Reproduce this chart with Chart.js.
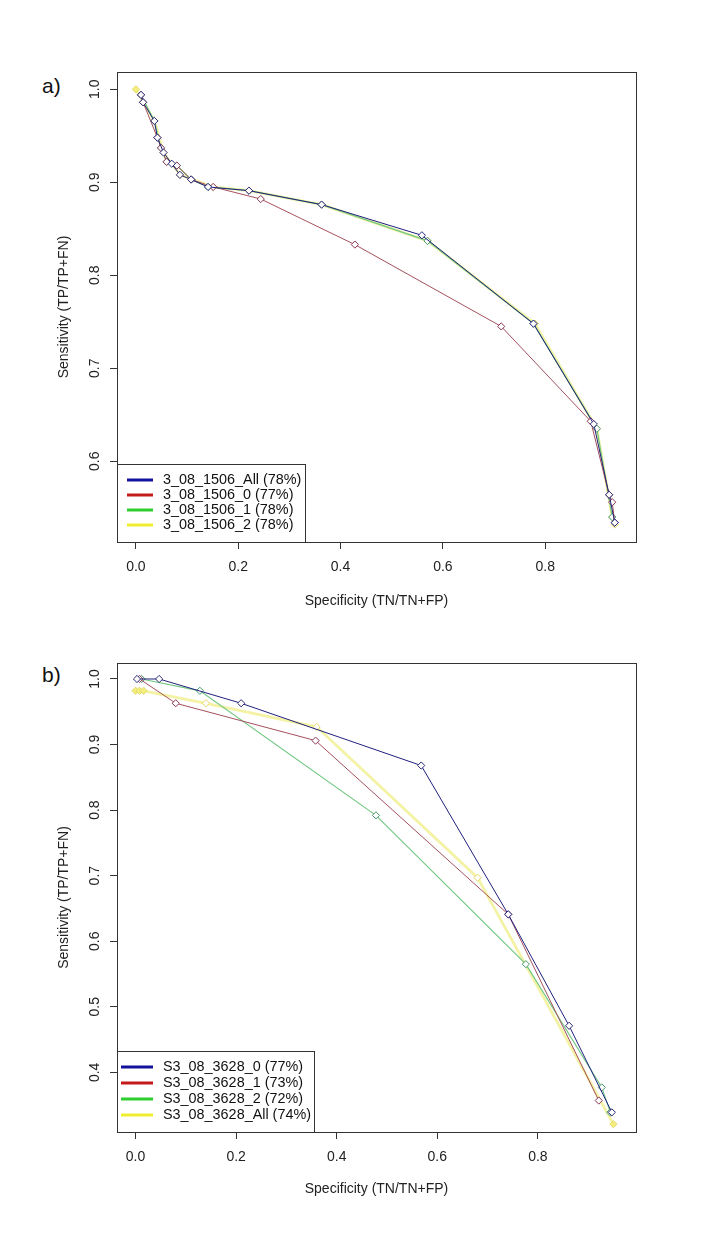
<!DOCTYPE html>
<html>
<head>
<meta charset="utf-8">
<script src="https://cdn.jsdelivr.net/npm/chart.js@4.4.1/dist/chart.umd.min.js"></script>
<style>
  html, body { margin: 0; padding: 0; background: #ffffff; }
  body { width: 720px; height: 1247px; position: relative; overflow: hidden;
         font-family: "Liberation Sans", Arial, sans-serif; }
  .panel { position: absolute; left: 0; width: 720px; }
  .lab { position: absolute; left: 42px; font-size: 21px; line-height: 21px; color: #111; }
</style>
</head>
<body>
<div class="lab" style="top:75px">a)</div>
<div class="lab" style="top:664px">b)</div>
<div class="panel" style="top:0px;height:620px"><canvas id="ca" width="720" height="620"></canvas></div>
<div class="panel" style="top:620px;height:627px"><canvas id="cb" width="720" height="627"></canvas></div>
<script>
// ---------------- DATA: panel a ----------------
const aLabels = ['3_08_1506_All (78%)', '3_08_1506_0 (77%)', '3_08_1506_1 (78%)', '3_08_1506_2 (78%)'];
const aAllX = [0.010, 0.014, 0.036, 0.042, 0.054, 0.070, 0.086, 0.108, 0.141, 0.221, 0.363, 0.559, 0.777, 0.895, 0.925, 0.936];
const aAllY = [0.994, 0.986, 0.966, 0.948, 0.932, 0.920, 0.908, 0.903, 0.895, 0.891, 0.876, 0.843, 0.748, 0.640, 0.564, 0.534];
const a0X = [0.010, 0.014, 0.042, 0.049, 0.060, 0.080, 0.108, 0.151, 0.244, 0.428, 0.714, 0.889, 0.925, 0.931, 0.936];
const a0Y = [0.994, 0.986, 0.948, 0.937, 0.922, 0.918, 0.903, 0.895, 0.882, 0.833, 0.745, 0.643, 0.564, 0.556, 0.534];
const a1X = [0.010, 0.036, 0.049, 0.060, 0.080, 0.108, 0.141, 0.221, 0.363, 0.570, 0.777, 0.901, 0.931, 0.936];
const a1Y = [0.994, 0.966, 0.937, 0.922, 0.918, 0.903, 0.895, 0.891, 0.876, 0.837, 0.748, 0.635, 0.540, 0.534];
const a2X = [0.000, 0.036, 0.054, 0.086, 0.151, 0.221, 0.363, 0.570, 0.780, 0.901, 0.931, 0.936];
const a2Y = [1.000, 0.966, 0.932, 0.908, 0.895, 0.891, 0.876, 0.837, 0.748, 0.635, 0.540, 0.532];
const aXTicks = [0.0, 0.2, 0.4, 0.6, 0.8];
const aXTickLabels = ['0.0', '0.2', '0.4', '0.6', '0.8'];
const aYTicks = [0.6, 0.7, 0.8, 0.9, 1.0];
const aYTickLabels = ['0.6', '0.7', '0.8', '0.9', '1.0'];

// ---------------- DATA: panel b ----------------
const bLabels = ['S3_08_3628_0 (77%)', 'S3_08_3628_1 (73%)', 'S3_08_3628_2 (72%)', 'S3_08_3628_All (74%)'];
const b0X = [0.003, 0.047, 0.210, 0.568, 0.741, 0.862, 0.947];
const b0Y = [1.000, 1.000, 0.963, 0.868, 0.641, 0.471, 0.339];
const b1X = [0.008, 0.080, 0.358, 0.741, 0.921];
const b1Y = [1.000, 0.963, 0.906, 0.641, 0.357];
const b2X = [0.012, 0.128, 0.478, 0.776, 0.927, 0.944];
const b2Y = [1.000, 0.982, 0.792, 0.565, 0.377, 0.339];
const bAllX = [0.000, 0.008, 0.016, 0.140, 0.360, 0.680, 0.950];
const bAllY = [0.982, 0.982, 0.982, 0.963, 0.927, 0.697, 0.321];
const bXTicks = [0.0, 0.2, 0.4, 0.6, 0.8];
const bXTickLabels = ['0.0', '0.2', '0.4', '0.6', '0.8'];
const bYTicks = [0.4, 0.5, 0.6, 0.7, 0.8, 0.9, 1.0];
const bYTickLabels = ['0.4', '0.5', '0.6', '0.7', '0.8', '0.9', '1.0'];

const xTitle = 'Specificity (TN/TN+FP)';
const yTitle = 'Sensitivity (TP/TP+FN)';

// ---------------- STYLES ----------------
const FONT = '"Liberation Sans", Arial, sans-serif';
const STY = {
  blue:   { line: '#20207e', w: 1,   pt: '#2a2a78', bg: '#ffffff', leg: '#12129a' },
  red:    { line: '#a4505c', w: 1,   pt: '#8a3656', bg: '#ffffff', leg: '#c41a1a' },
  green:  { line: '#74c884', w: 1.2, pt: '#46986a', bg: '#ffffff', leg: '#2ece2e' },
  yellow: { line: '#f4f2a4', w: 2.8, pt: '#e4d868', bg: '#ffffff', leg: '#eeee2e' }
};

function pts(xs, ys) { return xs.map((x, i) => ({ x: x, y: ys[i] })); }
function ds(label, xs, ys, s, bgs) {
  return {
    label: label, data: pts(xs, ys), showLine: true, fill: false, tension: 0,
    borderColor: s.line, borderWidth: s.w,
    pointStyle: 'rectRot', pointRadius: 3.6, pointHoverRadius: 3.6,
    pointBorderColor: s.pt, pointBorderWidth: 1,
    pointBackgroundColor: bgs || s.bg
  };
}

const framePlugin = {
  id: 'frame',
  afterDraw(chart, args, o) {
    const ctx = chart.ctx;
    const ca = chart.chartArea;
    ctx.save();
    const ys = chart.scales.y;
    ctx.fillStyle = '#222';
    ctx.font = '14px ' + FONT;
    ctx.textAlign = 'center';
    ctx.textBaseline = 'middle';
    o.yTicks.forEach((v, i) => {
      const py = ys.getPixelForValue(v);
      ctx.save();
      ctx.translate(o.yLabelX, py);
      ctx.rotate(-Math.PI / 2);
      ctx.fillText(o.yLabels[i], 0, 0);
      ctx.restore();
    });
    const L = o.legend;
    ctx.fillStyle = '#ffffff';
    ctx.fillRect(ca.left, L.top, L.right - ca.left, ca.bottom - L.top);
    ctx.strokeStyle = '#333';
    ctx.lineWidth = 1;
    ctx.strokeRect(Math.round(ca.left) + 0.5, Math.round(L.top) + 0.5,
                   Math.round(L.right - ca.left), Math.round(ca.bottom - L.top));
    L.items.forEach((it, i) => {
      const yy = L.firstY + i * L.rowH;
      ctx.strokeStyle = it.color;
      ctx.lineWidth = 3;
      ctx.beginPath();
      ctx.moveTo(L.x1, yy);
      ctx.lineTo(L.x2, yy);
      ctx.stroke();
      ctx.fillStyle = '#111';
      ctx.font = '14.4px ' + FONT;
      ctx.textAlign = 'left';
      ctx.textBaseline = 'middle';
      ctx.fillText(it.label, L.textX, yy + 0.5);
    });
    ctx.strokeStyle = '#333';
    ctx.lineWidth = 1;
    ctx.strokeRect(Math.round(ca.left) + 0.5, Math.round(ca.top) + 0.5,
                   Math.round(ca.right - ca.left), Math.round(ca.bottom - ca.top));
    ctx.restore();
  }
};

function build(id, p) {
  return new Chart(document.getElementById(id), {
    type: 'scatter',
    data: { datasets: p.datasets },
    plugins: [framePlugin],
    options: {
      responsive: false, animation: false,
      layout: { padding: { left: 0, top: p.area.top, right: 720 - p.area.right, bottom: 0 } },
      plugins: {
        legend: { display: false }, tooltip: { enabled: false },
        frame: { yTicks: p.yTicks, yLabels: p.yLabels, yLabelX: 95, legend: p.legend }
      },
      scales: {
        x: {
          type: 'linear', min: p.xMin, max: p.xMax,
          afterBuildTicks: s => { s.ticks = p.xTicks.map(v => ({ value: v })); },
          afterFit: s => { s.height = p.canvasH - p.area.bottom; },
          ticks: { callback: (v) => p.xLabels[p.xTicks.indexOf(v)] ?? '', color: '#222',
                   font: { family: FONT, size: 14 }, padding: 10, maxRotation: 0, autoSkip: false },
          grid: { drawOnChartArea: false, drawTicks: true, tickLength: 7, tickColor: '#333', tickWidth: 1 },
          border: { display: false },
          title: { display: true, text: xTitle, color: '#222', font: { family: FONT, size: 14 },
                   padding: { top: 0, bottom: p.xTitlePad } }
        },
        y: {
          type: 'linear', min: p.yMin, max: p.yMax,
          afterBuildTicks: s => { s.ticks = p.yTicks.map(v => ({ value: v })); },
          afterFit: s => { s.width = p.area.left; },
          ticks: { display: false },
          grid: { drawOnChartArea: false, drawTicks: true, tickLength: 7, tickColor: '#333', tickWidth: 1 },
          border: { display: false },
          title: { display: true, text: yTitle, color: '#222', font: { family: FONT, size: 14 },
                   padding: { top: 55.6, bottom: 0 } }
        }
      }
    }
  });
}

build('ca', {
  canvasH: 620,
  area: { left: 117, top: 72, right: 636, bottom: 542 },
  xMin: -0.037, xMax: 0.9775, yMin: 0.5132, yMax: 1.0186,
  xTicks: aXTicks, xLabels: aXTickLabels, yTicks: aYTicks, yLabels: aYTickLabels,
  xTitlePad: 10.6,
  datasets: [
    ds(aLabels[0], aAllX, aAllY, STY.blue),
    ds(aLabels[1], a0X, a0Y, STY.red),
    ds(aLabels[2], a1X, a1Y, STY.green),
    ds(aLabels[3], a2X, a2Y, STY.yellow, a2X.map((x, i) => i === 0 ? '#f2ee80' : '#ffffff'))
  ],
  legend: { top: 464, right: 305, firstY: 480, rowH: 15, x1: 127, x2: 153, textX: 163,
            items: aLabels.map((l, i) => ({ label: l, color: [STY.blue, STY.red, STY.green, STY.yellow][i].leg })) }
});

build('cb', {
  canvasH: 627,
  area: { left: 117, top: 43, right: 636, bottom: 512 },
  xMin: -0.0368, xMax: 0.995, yMin: 0.309, yMax: 1.0244,
  xTicks: bXTicks, xLabels: bXTickLabels, yTicks: bYTicks, yLabels: bYTickLabels,
  xTitlePad: 49.6,
  datasets: [
    ds(bLabels[0], b0X, b0Y, STY.blue),
    ds(bLabels[1], b1X, b1Y, STY.red),
    ds(bLabels[2], b2X, b2Y, STY.green),
    ds(bLabels[3], bAllX, bAllY, STY.yellow,
       bAllX.map((x, i) => (i < 3 || i === bAllX.length - 1) ? '#f2ee80' : '#ffffff'))
  ],
  legend: { top: 431, right: 314, firstY: 447, rowH: 16, x1: 121, x2: 153, textX: 163,
            items: bLabels.map((l, i) => ({ label: l, color: [STY.blue, STY.red, STY.green, STY.yellow][i].leg })) }
});
</script>
</body>
</html>
